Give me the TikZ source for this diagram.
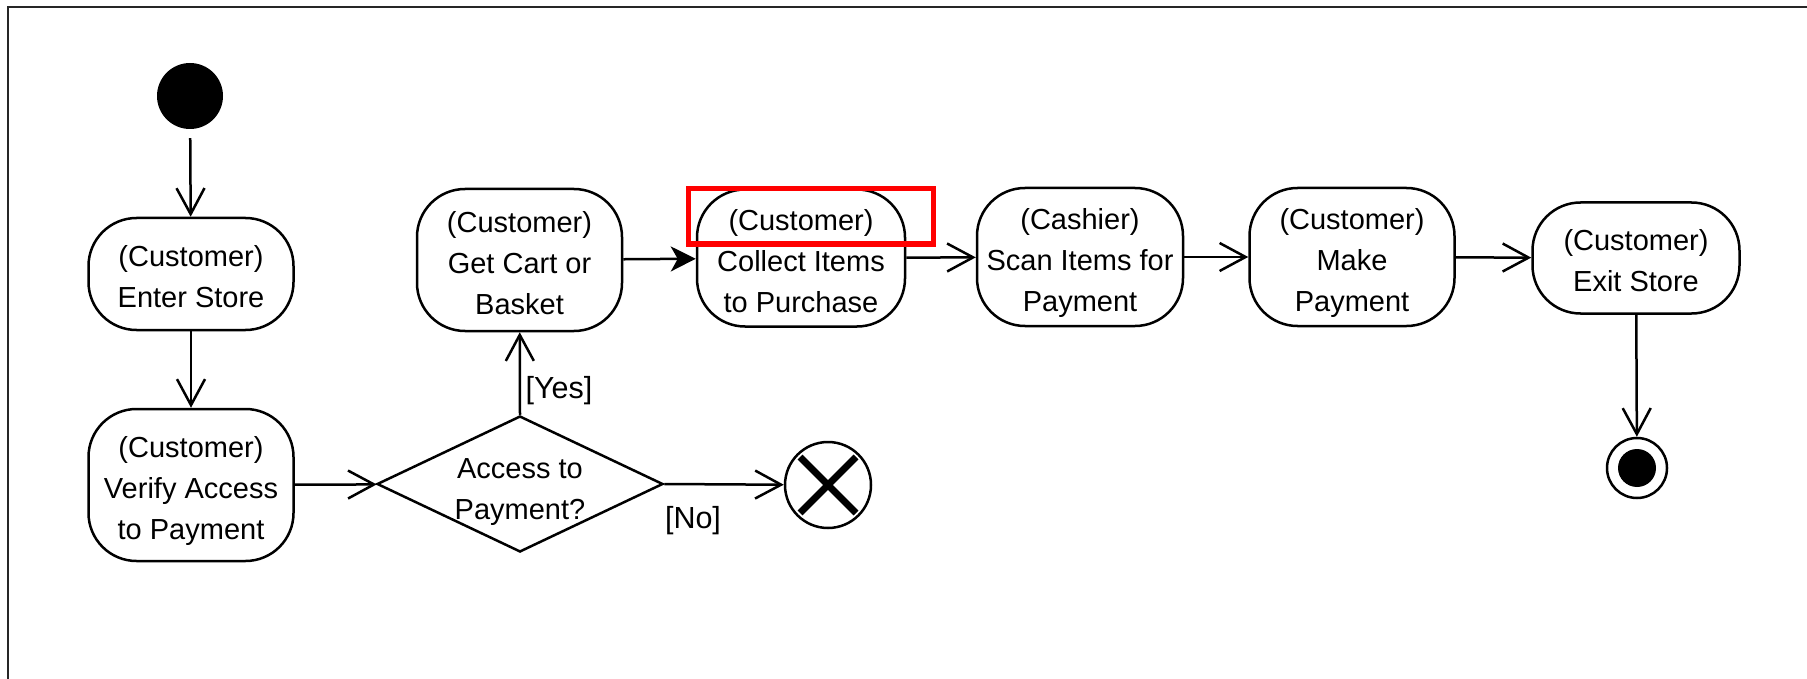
\documentclass[tikz,border=0pt]{standalone}
\usepackage{fontspec}
\setmainfont{Liberation Sans}
\usetikzlibrary{arrows.meta,shapes.geometric}

\newcommand{\actfont}{\fontsize{29}{41}\selectfont}
\newcommand{\guardfont}{\fontsize{30.5}{41}\selectfont}

\begin{document}
\begin{tikzpicture}[x=1pt,y=-1pt,
  act/.style={draw, line width=2.5pt, rounded corners=48pt, inner sep=0pt},
  acttext/.style={align=center, inner sep=0pt, font=\actfont},
  decision/.style={draw, diamond, line width=2.5pt, inner sep=0pt,
    minimum width=286pt, minimum height=136pt},
  flow/.style={line width=2.5pt, -{Straight Barb[length=26pt,width=28pt,line width=2.5pt]}},
  solidflow/.style={line width=2.5pt, -{Stealth[length=25pt,width=25pt,inset=7pt]}},
  guard/.style={font=\guardfont, inner sep=0pt},
  highlight/.style={draw=red, line width=5pt}
]
\useasboundingbox (0,0) rectangle (1807,679);
\clip (0,0) rectangle (1807,679);
\fill[white] (0,0) rectangle (1807,679);

% outer frame
\draw[line width=2pt, black!85] (8,7) rectangle (1830,700);

% start and end markers
\node[circle, fill=black, minimum size=66pt, inner sep=0pt] (init) at (190,96) {};
\node[circle, draw, line width=2.5pt, minimum size=60pt, inner sep=0pt] (fin) at (1637,468) {};
\fill (fin.center) circle (19pt);
\node[circle, draw, line width=2.5pt, minimum size=86pt, inner sep=0pt] (ff) at (828,485) {};
\draw[line width=7pt] (ff.center) ++(-28,-28) -- ++(56,56);
\draw[line width=7pt] (ff.center) ++(28,-28) -- ++(-56,56);

% action shapes
\node[act, minimum width=205pt, minimum height=112pt] (enter) at (191,274) {};
\node[act, minimum width=205pt, minimum height=152pt] (verify) at (191,485) {};
\node[decision] (dec) at (520,484) {};
\node[act, minimum width=205pt, minimum height=142pt] (cart) at (519.5,260) {};
\node[act, minimum width=208pt, minimum height=137pt] (collect) at (801,258) {};
\node[act, minimum width=206pt, minimum height=138pt] (scan) at (1080,257) {};
\node[act, minimum width=205pt, minimum height=138pt] (pay) at (1352,257) {};
\node[act, minimum width=207pt, minimum height=111pt] (exit) at (1636,258) {};

% action texts
\node[acttext] (entert) at ([yshift=-3pt]enter.center) {(Customer)\\Enter Store};
\node[acttext] (verifyt) at ([yshift=-6pt]verify.center) {(Customer)\\Verify Access\\to Payment};
\node[acttext] (dect) at ([yshift=-8pt]dec.center) {Access to\\Payment?};
\node[acttext] (cartt) at ([yshift=-3pt]cart.center) {(Customer)\\Get Cart or\\Basket};
\node[acttext] (collectt) at ([yshift=-3pt]collect.center) {(Customer)\\Collect Items\\to Purchase};
\node[acttext] (scant) at ([yshift=-6pt]scan.center) {(Cashier)\\Scan Items for\\Payment};
\node[acttext] (payt) at ([yshift=-6pt]pay.center) {(Customer)\\Make\hspace{0.2em}\\Payment};
\node[acttext] (exitt) at ([yshift=-3pt]exit.center) {(Customer)\\Exit Store};

% flows
\draw[flow, shorten <=9pt] (init) -- (enter);
\draw[flow] (enter) -- (verify);
\draw[flow] (verify) -- (dec);
\draw[flow] (dec.north) -- (cart);
\draw[flow] (dec.east) -- (ff);
\draw[solidflow] (cart) -- (collect);
\draw[flow] (collect) -- (scan);
\draw[flow] (scan) -- (pay);
\draw[flow] (pay) -- (exit);
\draw[flow] (exit) -- (fin);

% guards
\node[guard] (yes) at (559,391) {[Yes]};
\node[guard] (no) at (693,521) {[No]};

% highlight box
\draw[highlight] (688,189) rectangle (933,244);
\end{tikzpicture}
\end{document}
